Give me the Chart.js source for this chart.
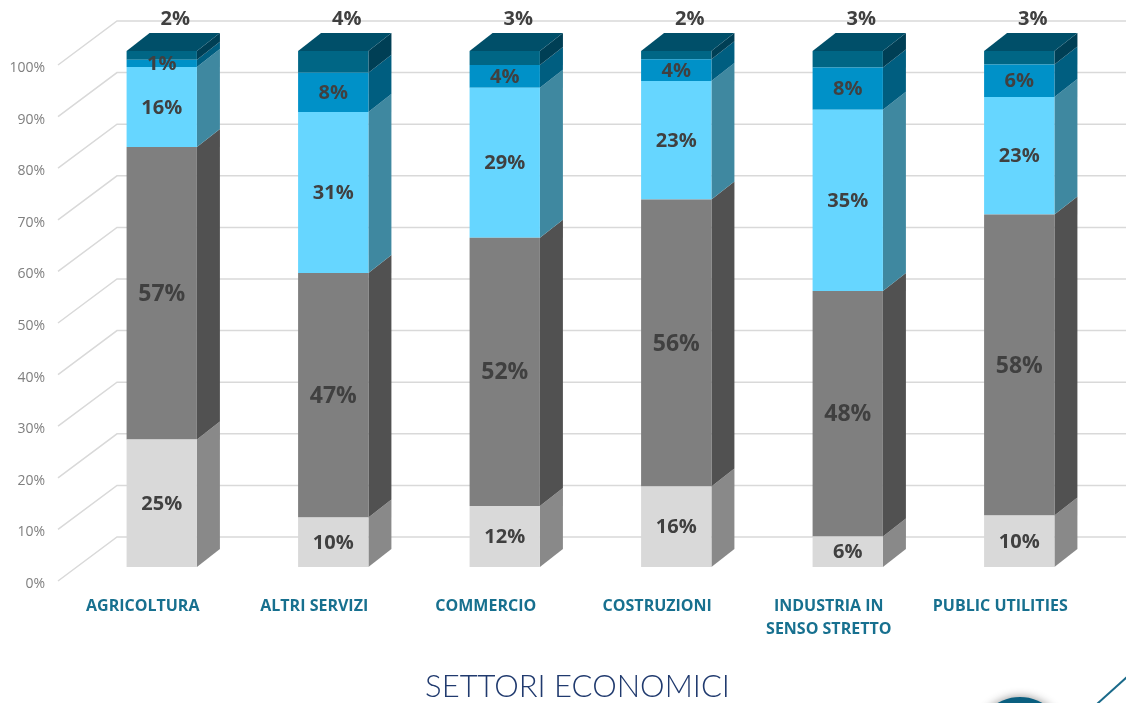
<!DOCTYPE html>
<html>
<head>
<meta charset="utf-8">
<script src="https://cdn.jsdelivr.net/npm/chart.js@4.4.1/dist/chart.umd.min.js"></script>
<style>
  html, body { margin: 0; padding: 0; background: #ffffff; }
  #wrap { width: 1126px; height: 703px; position: relative; }
</style>
</head>
<body>
<div id="wrap"><canvas id="c"></canvas></div>
<script>
// ---- data (percent shares per sector) ----
const categories = ['AGRICOLTURA', 'ALTRI SERVIZI', 'COMMERCIO', 'COSTRUZIONI', ['INDUSTRIA IN', 'SENSO STRETTO'], 'PUBLIC UTILITIES'];
const series1 = [24.7, 9.6, 11.8, 15.6, 5.9, 10.0];
const series2 = [56.7, 47.4, 52.0, 55.6, 47.6, 58.3];
const series3 = [15.5, 31.2, 29.1, 23.0, 35.1, 22.8];
const series4 = [1.4, 7.6, 4.4, 4.2, 8.2, 6.3];
const series5 = [1.7, 4.2, 2.7, 1.6, 3.2, 2.6];
const yTicks = [0, 10, 20, 30, 40, 50, 60, 70, 80, 90, 100];
const axisTitle = 'SETTORI ECONOMICI';

// ---- styles ----
const frontColors = ['#D9D9D9', '#7F7F7F', '#66D6FF', '#0091C8', '#006685'];
const sideColors  = ['#898989', '#515151', '#3F88A0', '#005E80', '#003F55'];
const labelSizes  = [20, 23, 20, 20, 20];
const topColor = '#004F69';
const DX = 23, DY = 18;

const threeD = {
  id: 'threeD',
  beforeDatasetsDraw(chart) {
    const ctx = chart.ctx;
    const y = chart.scales.y;
    // gridlines (floor + back wall)
    ctx.save();
    ctx.strokeStyle = '#D9D9D9';
    ctx.lineWidth = 1.5;
    yTicks.forEach(v => {
      const py = y.getPixelForValue(v);
      ctx.beginPath();
      ctx.moveTo(58, py + 14);
      ctx.lineTo(117, py - 30);
      ctx.lineTo(chart.width, py - 30);
      ctx.stroke();
    });
    // side and top faces
    const n = chart.data.datasets.length;
    chart.data.labels.forEach((_, i) => {
      for (let d = 0; d < n; d++) {
        const el = chart.getDatasetMeta(d).data[i];
        const r = el.x + el.width / 2;
        ctx.fillStyle = sideColors[d];
        ctx.beginPath();
        ctx.moveTo(r, el.y);
        ctx.lineTo(r + DX, el.y - DY);
        ctx.lineTo(r + DX, el.base - DY);
        ctx.lineTo(r, el.base);
        ctx.closePath();
        ctx.fill();
        if (d === n - 1) {
          const l = el.x - el.width / 2;
          ctx.fillStyle = topColor;
          ctx.beginPath();
          ctx.moveTo(l, el.y);
          ctx.lineTo(l + DX, el.y - DY);
          ctx.lineTo(r + DX, el.y - DY);
          ctx.lineTo(r, el.y);
          ctx.closePath();
          ctx.fill();
        }
      }
    });
    ctx.restore();
  },
  afterDatasetsDraw(chart) {
    const ctx = chart.ctx;
    const n = chart.data.datasets.length;
    ctx.save();
    ctx.fillStyle = '#404040';
    ctx.textAlign = 'center';
    ctx.textBaseline = 'middle';
    chart.data.datasets.forEach((ds, d) => {
      ctx.font = 'bold ' + labelSizes[d] + 'px "Open Sans", sans-serif';
      chart.getDatasetMeta(d).data.forEach((el, i) => {
        const txt = Math.round(ds.data[i]) + '%';
        if (d === n - 1) {
          ctx.fillText(txt, el.x + DX / 2 + 2, el.y - DY - 14);
        } else {
          ctx.fillText(txt, el.x, (el.y + el.base) / 2 + 1);
        }
      });
    });
    ctx.restore();
  },
  afterDraw(chart) {
    const ctx = chart.ctx;
    const xs = chart.scales.x;
    ctx.save();
    // axis title
    ctx.font = '300 31px Lato, "Open Sans", sans-serif';
    ctx.fillStyle = '#203A6E';
    ctx.textAlign = 'center';
    ctx.textBaseline = 'alphabetic';
    ctx.fillText(axisTitle, (xs.left + xs.right) / 2 - 13, 697);
    // slide decoration
    ctx.shadowColor = 'rgba(0,0,0,0.45)';
    ctx.shadowBlur = 10;
    ctx.fillStyle = '#0A5F80';
    ctx.beginPath();
    ctx.arc(1020, 742, 45, 0, Math.PI * 2);
    ctx.fill();
    ctx.shadowBlur = 0;
    ctx.shadowColor = 'transparent';
    ctx.strokeStyle = '#1A6A8A';
    ctx.lineWidth = 2;
    ctx.beginPath();
    ctx.moveTo(1128, 676);
    ctx.lineTo(1097, 704);
    ctx.stroke();
    ctx.restore();
  }
};

const allSeries = [series1, series2, series3, series4, series5];
new Chart(document.getElementById('c'), {
  type: 'bar',
  data: {
    labels: categories,
    datasets: allSeries.map((s, k) => ({
      label: 'S' + (k + 1),
      data: s,
      backgroundColor: frontColors[k],
      borderWidth: 0,
      stack: 'a',
      categoryPercentage: 1,
      barPercentage: 0.41
    }))
  },
  options: {
    responsive: true,
    maintainAspectRatio: false,
    animation: false,
    layout: { padding: { top: 51, right: 21, left: 0, bottom: 0 } },
    plugins: { legend: { display: false }, tooltip: { enabled: false }, title: { display: false } },
    scales: {
      x: {
        stacked: true,
        grid: { display: false, drawTicks: false },
        border: { display: false },
        ticks: {
          color: '#17708F',
          font: { family: '"Open Sans", sans-serif', size: 16, weight: 'bold', lineHeight: 1.45 },
          padding: 28,
          labelOffset: -19,
          maxRotation: 0,
          autoSkip: false
        },
        afterFit(s) { s.height = 136; }
      },
      y: {
        stacked: true,
        min: 0,
        max: 100,
        grid: { display: false, drawTicks: false },
        border: { display: false },
        ticks: {
          stepSize: 10,
          color: '#7F7F7F',
          font: { family: '"Open Sans", sans-serif', size: 14 },
          padding: 31,
          labelOffset: 17,
          callback: v => v + '%'
        },
        afterFit(s) { s.width = 76; }
      }
    }
  },
  plugins: [threeD]
});
</script>
</body>
</html>
